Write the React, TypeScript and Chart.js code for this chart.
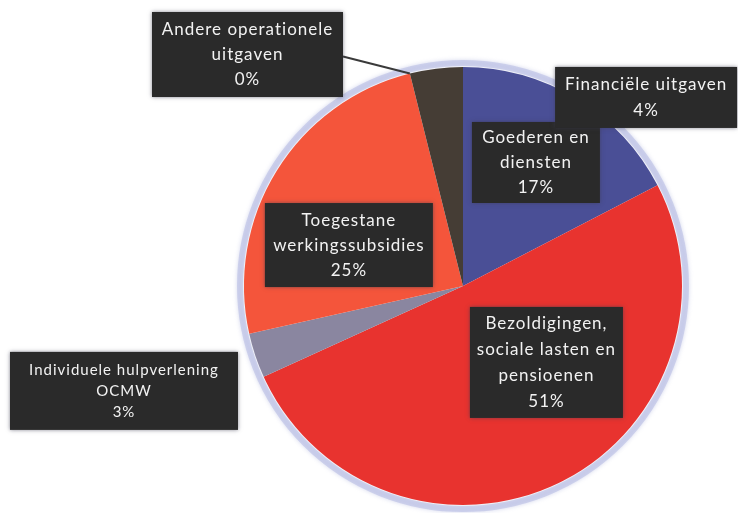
import React, { useEffect, useRef } from "react";
import { Chart, registerables } from "chart.js";

Chart.register(...registerables);

const categories = [
  "Goederen en diensten",
  "Bezoldigingen, sociale lasten en pensioenen",
  "Individuele hulpverlening OCMW",
  "Toegestane werkingssubsidies",
  "Andere operationele uitgaven",
  "Financiële uitgaven",
];
const values = [17.4, 50.8, 3.3, 24.6, 0, 3.9];
const labelLines = [
  ["Goederen en", "diensten"],
  ["Bezoldigingen,", "sociale lasten en", "pensioenen"],
  ["Individuele hulpverlening", "OCMW"],
  ["Toegestane", "werkingssubsidies"],
  ["Andere operationele", "uitgaven"],
  ["Financiële uitgaven"],
];
const colors = ["#4a4f96", "#e8332f", "#8a86a0", "#f4553b", "#3d3733", "#453d35"];

// label box layout: centre offset in units of pie radius, box size in px, line height, font size, leader line
const labelLayout = [
  { dx: 0.333, dy: -0.564, w: 128, h: 81, lh: 25, fs: 17, leader: false },
  { dx: 0.381, dy: 0.349, w: 153, h: 111, lh: 26, fs: 17, leader: false },
  { dx: -1.548, dy: 0.479, w: 228, h: 78, lh: 21, fs: 15, leader: false },
  { dx: -0.521, dy: -0.187, w: 168, h: 84, lh: 25, fs: 17, leader: false },
  { dx: -0.984, dy: -1.057, w: 191, h: 85, lh: 25, fs: 17, leader: true },
  { dx: 0.836, dy: -0.861, w: 182, h: 61, lh: 26, fs: 17, leader: false },
];

const ringPlugin = {
  id: "ring",
  beforeDatasetsDraw(chart: any) {
    const arc = chart.getDatasetMeta(0).data[0];
    if (!arc) return;
    const { x, y, outerRadius } = arc.getProps(["x", "y", "outerRadius"], true);
    const ctx = chart.ctx;
    ctx.save();
    ctx.beginPath();
    ctx.arc(x, y, outerRadius + 4, 0, Math.PI * 2);
    ctx.lineWidth = 6;
    ctx.shadowColor = "rgba(170,175,220,0.8)";
    ctx.shadowBlur = 4;
    ctx.strokeStyle = "rgba(185,190,228,0.6)";
    ctx.stroke();
    ctx.restore();
  },
};

const labelPlugin = {
  id: "boxLabels",
  afterDatasetsDraw(chart: any) {
    const meta = chart.getDatasetMeta(0);
    const ctx = chart.ctx;
    const total = values.reduce((a, b) => a + b, 0);
    meta.data.forEach((arc: any, i: number) => {
      const { x, y, outerRadius, startAngle, endAngle } = arc.getProps(
        ["x", "y", "outerRadius", "startAngle", "endAngle"],
        true
      );
      const L = labelLayout[i];
      const cx = x + L.dx * outerRadius;
      const cy = y + L.dy * outerRadius;
      const left = cx - L.w / 2;
      const top = cy - L.h / 2;
      ctx.save();
      if (L.leader) {
        const a = (startAngle + endAngle) / 2;
        ctx.beginPath();
        ctx.moveTo(left + L.w, cy + 2);
        ctx.lineTo(x + Math.cos(a) * outerRadius, y + Math.sin(a) * outerRadius);
        ctx.strokeStyle = "#3a3a3a";
        ctx.lineWidth = 2;
        ctx.stroke();
      }
      ctx.shadowColor = "rgba(60,60,80,0.6)";
      ctx.shadowBlur = 4;
      ctx.fillStyle = "#2a2a2a";
      ctx.fillRect(left, top, L.w, L.h);
      ctx.shadowBlur = 0;
      ctx.shadowColor = "transparent";
      const lines = [...labelLines[i], Math.round((values[i] / total) * 100) + "%"];
      ctx.fillStyle = "#f2f2f2";
      ctx.font = `${L.fs}px Lato, "Open Sans", sans-serif`;
      (ctx as any).letterSpacing = "1px";
      ctx.textAlign = "center";
      ctx.textBaseline = "middle";
      const startY = cy - ((lines.length - 1) * L.lh) / 2;
      lines.forEach((t, k) => ctx.fillText(t, cx, startY + k * L.lh));
      ctx.restore();
    });
  },
};

export default function App() {
  const ref = useRef<HTMLCanvasElement | null>(null);
  useEffect(() => {
    if (!ref.current) return;
    const chart = new Chart(ref.current, {
      type: "pie",
      data: {
        labels: categories,
        datasets: [
          {
            data: values,
            backgroundColor: colors,
            borderWidth: 0,
          },
        ],
      },
      options: {
        responsive: false,
        animation: false,
        rotation: 0,
        layout: { padding: { left: 244, right: 56, top: 67, bottom: 8 } },
        plugins: { legend: { display: false }, tooltip: { enabled: false } },
      },
      plugins: [ringPlugin, labelPlugin],
    });
    return () => chart.destroy();
  }, []);
  return (
    <div style={{ position: "fixed", left: 0, top: 0, width: 738, height: 513, background: "#fff" }}>
      <canvas ref={ref} width={738} height={513} />
    </div>
  );
}
